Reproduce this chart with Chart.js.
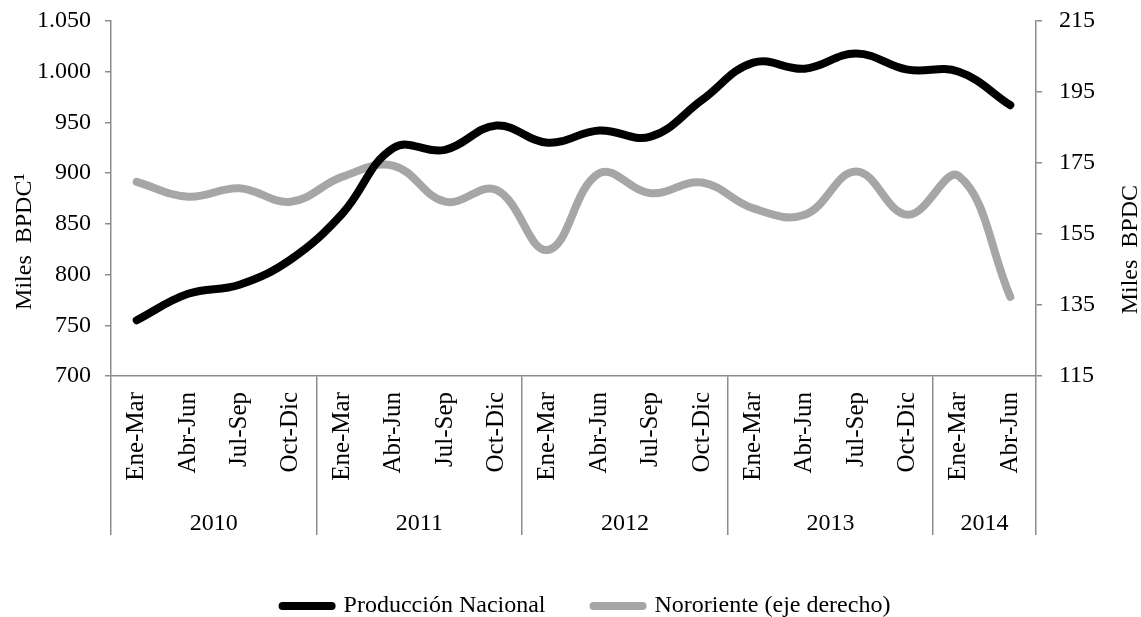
<!DOCTYPE html>
<html>
<head>
<meta charset="utf-8">
<script src="https://cdn.jsdelivr.net/npm/chart.js@4.4.1/dist/chart.umd.min.js"></script>
<style>
  html, body { margin: 0; padding: 0; background: #fff; }
  #contenedor { width: 1141px; height: 617px; }
</style>
</head>
<body>
<div id="contenedor"><canvas id="grafico"></canvas></div>
<script>
// datos
const trimestres = [
  'Ene-Mar', 'Abr-Jun', 'Jul-Sep', 'Oct-Dic',
  'Ene-Mar', 'Abr-Jun', 'Jul-Sep', 'Oct-Dic',
  'Ene-Mar', 'Abr-Jun', 'Jul-Sep', 'Oct-Dic',
  'Ene-Mar', 'Abr-Jun', 'Jul-Sep', 'Oct-Dic',
  'Ene-Mar', 'Abr-Jun'
];
const anos = ['2010', '2011', '2012', '2013', '2014'];
const trimestresPorAno = [4, 4, 4, 4, 2];

const produccionNacional = [755, 781, 790, 815, 860, 925, 923, 947, 930, 942, 936, 972, 1009, 1003, 1018, 1002, 1000, 967];
const nororiente = [169.7, 165.5, 167.9, 164.1, 171.1, 174.2, 164.1, 167.4, 150.5, 172.1, 166.5, 169.5, 162.2, 160.4, 172.6, 160.4, 171.3, 137.3];

const ticksIzq = [700, 750, 800, 850, 900, 950, 1000, 1050];
const etiquetasIzq = ['700', '750', '800', '850', '900', '950', '1.000', '1.050'];
const ticksDer = [115, 135, 155, 175, 195, 215];

const fuente = 'Liberation Serif';
const gris = '#8c8c8c';

// limites entre años (indices de la linea de grilla)
const limites = [0];
trimestresPorAno.forEach(n => limites.push(limites[limites.length - 1] + n));
// centro de cada año en unidades de categoria
const centrosAnos = trimestresPorAno.map((n, i) => limites[i] + (n - 1) / 2);

function tituloVertical(ctx, texto, x, y) {
  ctx.save();
  ctx.font = '24px "' + fuente + '"';
  ctx.fillStyle = '#000';
  ctx.textAlign = 'center';
  ctx.textBaseline = 'middle';
  ctx.translate(x, y);
  ctx.rotate(-Math.PI / 2);
  ctx.fillText(texto, 0, 0);
  ctx.restore();
}

const titulosEjes = {
  id: 'titulosEjes',
  afterLayout(chart) {
    // la leyenda del original esta algo corrida a la derecha
    chart.legend.left += 32;
  },
  afterDraw(chart) {
    const area = chart.chartArea;
    const yc = area.top + (area.bottom - area.top) * 0.63;
    tituloVertical(chart.ctx, 'Miles  BPDC\u00b9', 25, yc - 3);
    tituloVertical(chart.ctx, 'Miles  BPDC', 1131, yc + 5);
  }
};

function ajustarEjeY(ancho) {
  return s => {
    s.width = ancho;
    s.paddingTop = 0;
    s.paddingBottom = 0;
  };
}

const ctx = document.getElementById('grafico').getContext('2d');

new Chart(ctx, {
  type: 'line',
  data: {
    labels: trimestres,
    datasets: [{
      label: 'Producción Nacional',
      data: produccionNacional,
      yAxisID: 'y',
      borderColor: '#000000',
      backgroundColor: '#000000',
      borderWidth: 8,
      borderCapStyle: 'round',
      borderJoinStyle: 'round',
      tension: 0.4,
      pointRadius: 0
    }, {
      label: 'Nororiente (eje derecho)',
      data: nororiente,
      yAxisID: 'y1',
      borderColor: '#a6a6a6',
      backgroundColor: '#a6a6a6',
      borderWidth: 8,
      borderCapStyle: 'round',
      borderJoinStyle: 'round',
      tension: 0.4,
      pointRadius: 0
    }]
  },
  options: {
    responsive: true,
    maintainAspectRatio: false,
    animation: false,
    layout: { padding: { top: 21, left: 0, right: 0, bottom: -11 } },
    plugins: {
      tooltip: { enabled: false },
      legend: {
        position: 'bottom',
        labels: {
          font: { family: fuente, size: 24 },
          color: '#000',
          boxWidth: 49,
          boxHeight: 0,
          padding: 48
        }
      }
    },
    scales: {
      x: {
        offset: true,
        weight: 0,
        grid: {
          offset: true,
          drawOnChartArea: false,
          drawTicks: true,
          tickLength: 159,
          lineWidth: 1.5,
          color: c => (c.index === undefined || limites.includes(c.index)) ? gris : 'rgba(0,0,0,0)'
        },
        border: { color: gris, width: 1.5 },
        ticks: {
          autoSkip: false,
          minRotation: 90,
          maxRotation: 90,
          padding: -143,
          color: '#000',
          font: { family: fuente, size: 25 }
        },
        afterFit(s) { s.height = 123; }
      },
      x2: {
        type: 'linear',
        position: 'bottom',
        weight: 1,
        min: -0.5,
        max: 17.5,
        grid: { display: false },
        border: { display: false },
        afterBuildTicks(s) { s.ticks = centrosAnos.map(v => ({ value: v })); },
        ticks: {
          autoSkip: false,
          maxRotation: 0,
          padding: 2,
          color: '#000',
          font: { family: fuente, size: 24 },
          callback: (v, i) => anos[i]
        },
        afterFit(s) { s.height = 47; }
      },
      y: {
        position: 'left',
        min: 700,
        max: 1050,
        afterBuildTicks(s) { s.ticks = ticksIzq.map(v => ({ value: v })); },
        grid: { drawOnChartArea: false, tickLength: 6, color: gris, lineWidth: 1.5 },
        border: { color: gris, width: 1.5 },
        ticks: {
          padding: 14,
          color: '#000',
          font: { family: fuente, size: 24 },
          callback: v => etiquetasIzq[ticksIzq.indexOf(v)]
        },
        afterFit: ajustarEjeY(111)
      },
      y1: {
        position: 'right',
        min: 115,
        max: 215,
        afterBuildTicks(s) { s.ticks = ticksDer.map(v => ({ value: v })); },
        grid: { drawOnChartArea: false, tickLength: 6, color: gris, lineWidth: 1.5 },
        border: { color: gris, width: 1.5 },
        ticks: {
          padding: 17,
          color: '#000',
          font: { family: fuente, size: 24 }
        },
        afterFit: ajustarEjeY(105)
      }
    }
  },
  plugins: [titulosEjes]
});
</script>
</body>
</html>
